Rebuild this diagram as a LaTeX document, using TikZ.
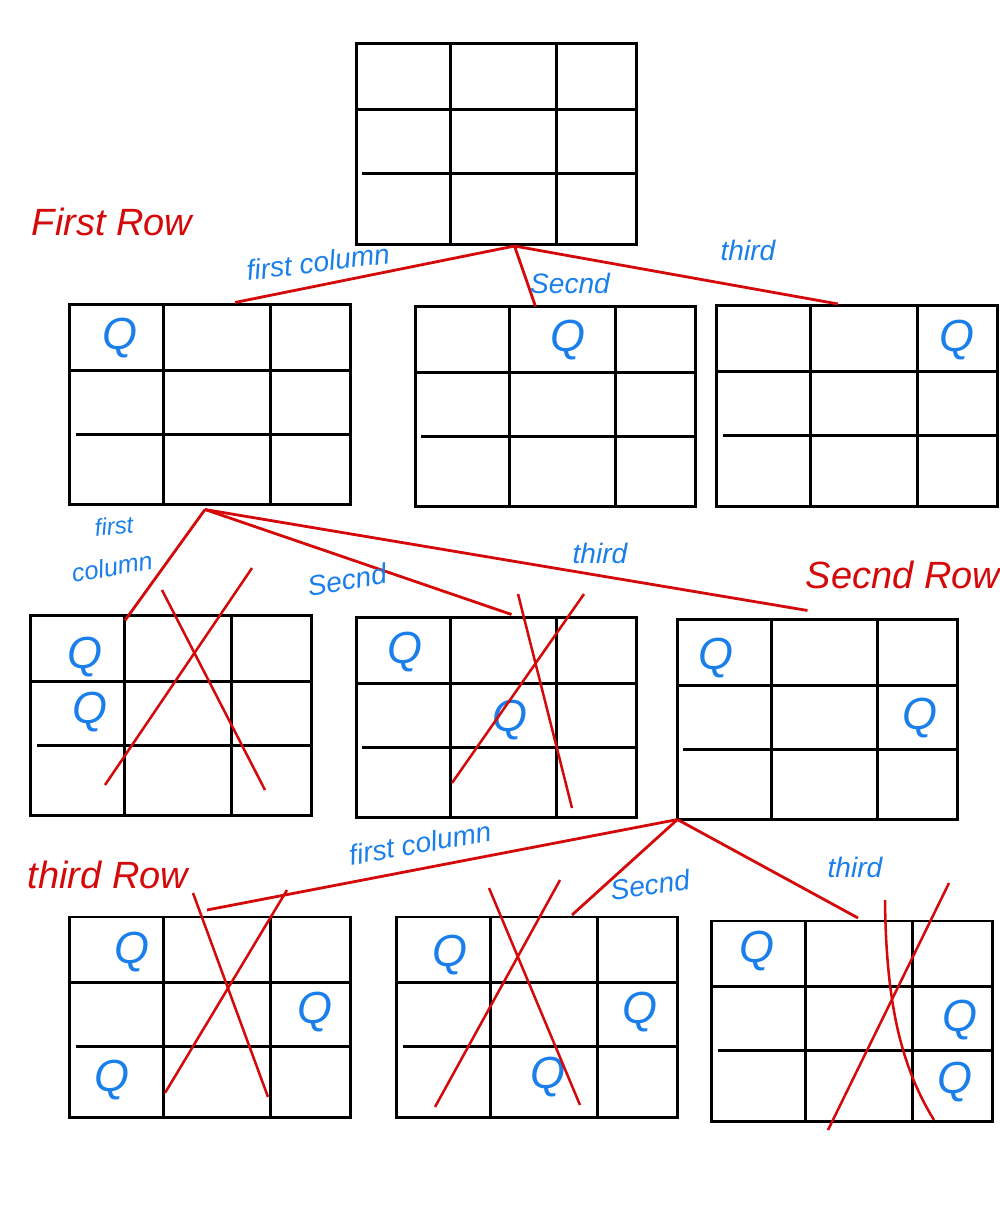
\documentclass[tikz,border=0pt]{standalone}
\usepackage{fontspec}
\setmainfont{Liberation Sans}
\usepackage{tikz}
\usetikzlibrary{calc,positioning}
\definecolor{cInk}{HTML}{000000}
\definecolor{cCut}{HTML}{D40A0A}
\definecolor{cNote}{HTML}{1A7FEA}
\tikzset{
  board/.style={draw=cInk, line width=2.1pt, minimum width=7cm, minimum height=5cm,
                inner sep=0pt, outer sep=0pt},
  gridline/.style={cInk, line width=2.1pt},
  branch/.style={cCut, line width=2pt},
  strike/.style={cCut, line width=1.8pt},
  queen/.style={text=cNote, font=\fontsize{32}{32}\selectfont\itshape, inner sep=0pt},
  colnote/.style={text=cNote, font=\fontsize{20}{22}\selectfont\itshape, inner sep=1pt},
  rownote/.style={text=cCut, font=\fontsize{27}{28}\selectfont\itshape, inner sep=1pt}
}
\begin{document}
\begin{tikzpicture}[x=0.025cm, y=-0.025cm]
\useasboundingbox (0,0) rectangle (999,1208);
% ----- boards -----
\node[board] (top) at (496.5,144) {};
\node[board] (A) at (210,404.5) {};
\node[board] (B) at (555.5,406.5) {};
\node[board] (C) at (857,406) {};
\node[board] (D) at (171,715.5) {};
\node[board] (E) at (496.5,717.5) {};
\node[board] (F) at (817.5,719.5) {};
\node[board] (G) at (210,1017) {};
\node[board] (H) at (537,1017) {};
\node[board] (I) at (852,1021) {};
\foreach \b in {top,A,B,C,D,E,F,G,H,I} {
  \draw[gridline] ($(\b.north west)!0.335!(\b.north east)$) -- ($(\b.south west)!0.335!(\b.south east)$);
  \draw[gridline] ($(\b.north west)!0.715!(\b.north east)$) -- ($(\b.south west)!0.715!(\b.south east)$);
  \draw[gridline] ($(\b.north west)!0.328!(\b.south west)$) -- ($(\b.north east)!0.328!(\b.south east)$);
  \draw[gridline] ($($(\b.north west)!0.648!(\b.south west)$)+(6,0)$) -- ($(\b.north east)!0.648!(\b.south east)$);
}
% ----- queens -----
\node[queen] (qA) at (120,338) {Q};
\node[queen] (qB) at (568,340) {Q};
\node[queen] (qC) at (957,340) {Q};
\node[queen] (qD1) at (85,657) {Q};
\node[queen] (qD2) at (90,712) {Q};
\node[queen] (qE1) at (405,652) {Q};
\node[queen] (qE2) at (510,720) {Q};
\node[queen] (qF1) at (716,658) {Q};
\node[queen] (qF2) at (920,718) {Q};
\node[queen] (qG1) at (132,952) {Q};
\node[queen] (qG2) at (315,1012) {Q};
\node[queen] (qG3) at (112,1080) {Q};
\node[queen] (qH1) at (450,955) {Q};
\node[queen] (qH2) at (640,1012) {Q};
\node[queen] (qH3) at (548,1077) {Q};
\node[queen] (qI1) at (757,951) {Q};
\node[queen] (qI2) at (960,1020) {Q};
\node[queen] (qI3) at (955,1082) {Q};
% ----- tree branches -----
\coordinate (r0) at ($(top.south)+(18,2)$);
\draw[branch] (r0) -- ($(A.north)+(25,-2)$);
\draw[branch] (r0) -- ($(B.north)+(-20,0)$);
\draw[branch] (r0) -- ($(C.north)+(-19,-2)$);
\coordinate (r1) at ($(A.south)+(-5,5)$);
\draw[branch] (r1) -- ($(D.north west)+(94,5)$);
\draw[branch] (r1) -- ($(E.north)+(15,-3)$);
\draw[branch] (r1) -- ($(F.north)+(-10,-9)$);
\coordinate (r2) at (F.south west);
\draw[branch] (r2) -- ($(G.north)+(-3,-7)$);
\draw[branch] (r2) -- ($(H.north)+(35,-2)$);
\draw[branch] (r2) -- ($(I.north)+(6,-3)$);
% ----- dead ends -----
\draw[strike] (105,785) -- (252,568);
\draw[strike] (162,590) -- (265,790);
\draw[strike] (452,783) -- (584,594);
\draw[strike] (518,594) -- (572,808);
\draw[strike] (165,1093) -- (287,890);
\draw[strike] (193,893) -- (268,1097);
\draw[strike] (435,1107) -- (560,880);
\draw[strike] (489,888) -- (580,1105);
\draw[strike] (828,1130) -- (949,883);
\draw[strike] (885,900) .. controls (886,1000) and (900,1065) .. (934,1120);
% ----- notes -----
\node[rownote] (n1) at (112,222) {First Row};
\node[rownote] (n2) at (903,575) {Secnd Row};
\node[rownote] (n3) at (108,875) {third Row};
\node[colnote, rotate=7] (c11) at (318,262) {first column};
\node[colnote] (c12) at (570,283) {Secnd};
\node[colnote] (c13) at (748,250) {third};
\node[colnote, font=\fontsize{17}{18}\selectfont\itshape, rotate=6] (c21a) at (114,526) {first};
\node[colnote, font=\fontsize{18}{19}\selectfont\itshape, rotate=10] (c21b) at (112,567) {column};
\node[colnote, rotate=10] (c22) at (347,580) {Secnd};
\node[colnote] (c23) at (600,553) {third};
\node[colnote, rotate=10] (c31) at (420,843) {first column};
\node[colnote, rotate=8] (c32) at (650,885) {Secnd};
\node[colnote] (c33) at (855,867) {third};
\end{tikzpicture}
\end{document}
